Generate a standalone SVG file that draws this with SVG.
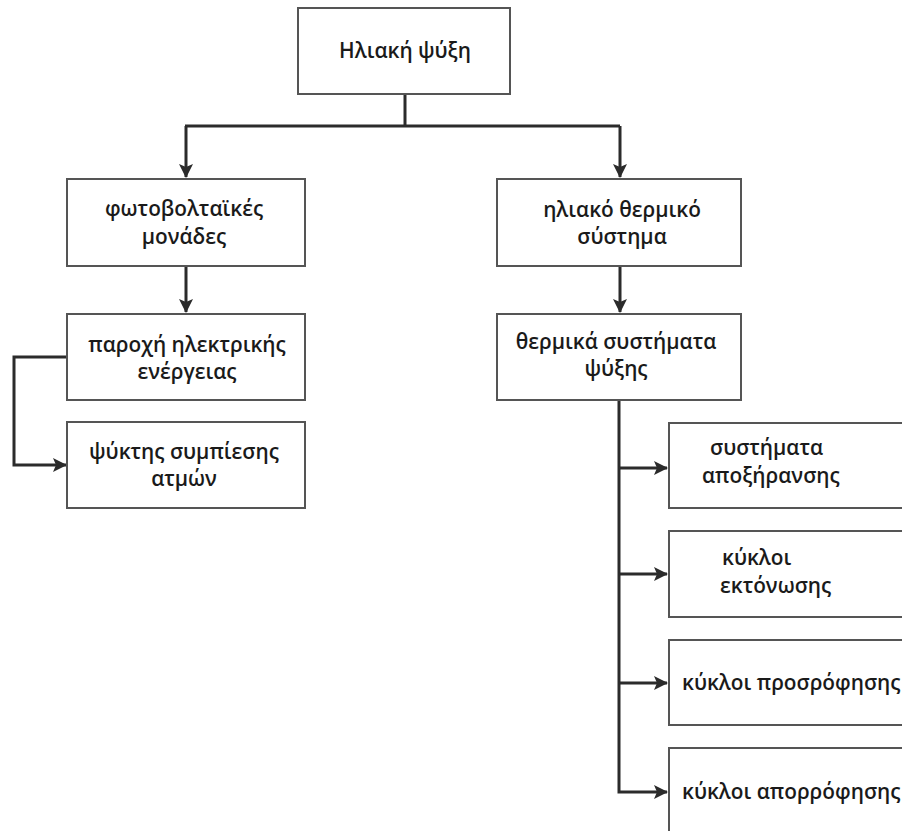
<svg xmlns="http://www.w3.org/2000/svg" width="902" height="831" viewBox="0 0 902 831">
<defs>
<marker id="ah" markerWidth="16" markerHeight="16" refX="13" refY="7" orient="auto" markerUnits="userSpaceOnUse">
<path d="M0,0 L14,7 L0,14 L3,7 Z" fill="#2b2b2b"/>
</marker>
<style>
.box{fill:#fff;stroke:#555;stroke-width:2}
.t{font-family:"Open Sans","Noto Sans","DejaVu Sans",sans-serif;font-weight:600;font-size:20.8px;fill:#1a1a1a}
.c{text-anchor:middle}
.ln{fill:none;stroke:#2b2b2b;stroke-width:3}
</style>
</defs>
<rect width="902" height="831" fill="#fff"/>
<g id="connectors">
<path class="ln" d="M405,94 V126"/>
<path class="ln" d="M185,126 H620"/>
<path class="ln" d="M186,126 V177" marker-end="url(#ah)"/>
<path class="ln" d="M620,126 V177" marker-end="url(#ah)"/>
<path class="ln" d="M186,266 V312" marker-end="url(#ah)"/>
<path class="ln" d="M620,266 V312" marker-end="url(#ah)"/>
<path class="ln" d="M67,357 H14 V465 H66" marker-end="url(#ah)"/>
<path class="ln" d="M619,400 V792 H667" marker-end="url(#ah)"/>
<path class="ln" d="M619,468 H667" marker-end="url(#ah)"/>
<path class="ln" d="M619,574 H667" marker-end="url(#ah)"/>
<path class="ln" d="M619,683 H667" marker-end="url(#ah)"/>
</g>
<g id="n-root"><rect class="box" x="298" y="8" width="212" height="86"/><text class="t c" x="405" y="58">Ηλιακή ψύξη</text></g>
<g id="n-pv"><rect class="box" x="67" y="179" width="238" height="87"/><text class="t c" x="184" y="216">φωτοβολταϊκές</text><text class="t c" x="184" y="244">μονάδες</text></g>
<g id="n-elec"><rect class="box" x="67" y="314" width="238" height="86"/><text class="t c" x="187" y="352">παροχή ηλεκτρικής</text><text class="t c" x="187" y="379">ενέργειας</text></g>
<g id="n-vc"><rect class="box" x="67" y="422" width="238" height="86"/><text class="t c" x="184" y="459">ψύκτης συμπίεσης</text><text class="t c" x="184" y="486">ατμών</text></g>
<g id="n-sth"><rect class="box" x="497" y="179" width="244" height="87"/><text class="t c" x="622" y="217">ηλιακό θερμικό</text><text class="t c" x="622" y="244">σύστημα</text></g>
<g id="n-tcs"><rect class="box" x="497" y="314" width="244" height="86"/><text class="t c" x="616" y="349">θερμικά συστήματα</text><text class="t c" x="616" y="376">ψύξης</text></g>
<g id="n-des"><rect class="box" x="669" y="423" width="260" height="85"/><text class="t" x="710" y="455">συστήματα</text><text class="t" x="702" y="483">αποξήρανσης</text></g>
<g id="n-exp"><rect class="box" x="669" y="531" width="260" height="86"/><text class="t" x="722" y="565">κύκλοι</text><text class="t" x="720" y="593">εκτόνωσης</text></g>
<g id="n-ads"><rect class="box" x="669" y="640" width="260" height="85"/><text class="t" x="682" y="690">κύκλοι προσρόφησης</text></g>
<g id="n-abs"><rect class="box" x="669" y="748" width="260" height="100"/><text class="t" x="682" y="799">κύκλοι απορρόφησης</text></g>
</svg>
